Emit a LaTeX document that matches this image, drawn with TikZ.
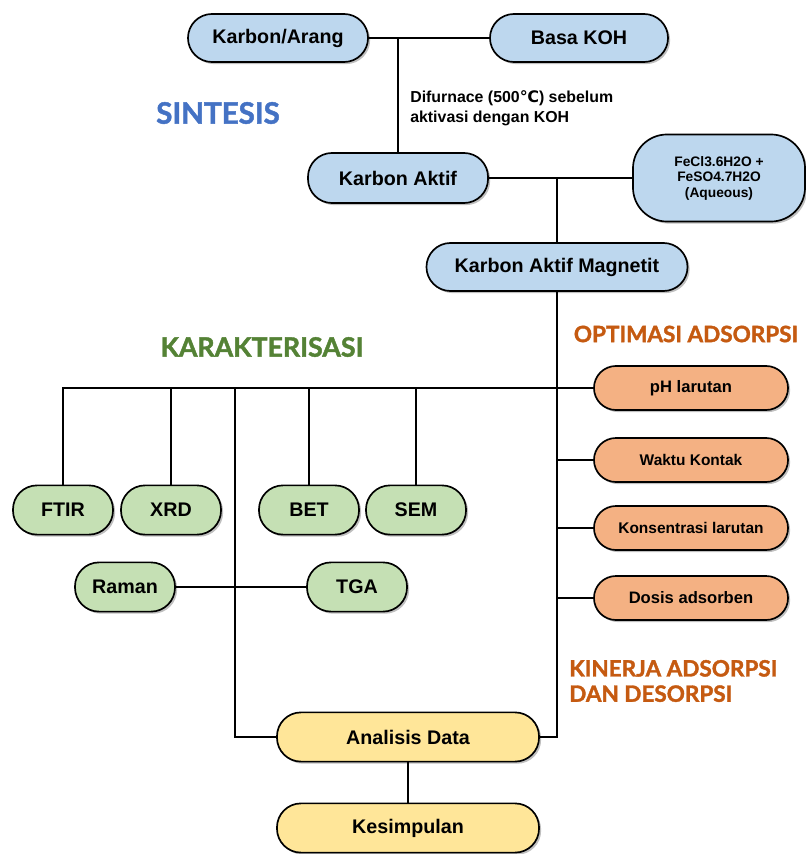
\documentclass[tikz,border=0pt]{standalone}
\usepackage{fontspec}
\setmainfont{Liberation Sans}
\newfontfamily\headfont{Lato}[BoldFeatures={FakeBold=1.6}]
\newfontfamily\symfont{DejaVu Sans}
\usetikzlibrary{shadows}
\definecolor{sinfill}{HTML}{BDD7EE}
\definecolor{karfill}{HTML}{C5E0B4}
\definecolor{optfill}{HTML}{F4B183}
\definecolor{hasfill}{HTML}{FFE699}
\definecolor{sinhead}{HTML}{4472C4}
\definecolor{karhead}{HTML}{548235}
\definecolor{opthead}{HTML}{C55A11}

\begin{document}
\begin{tikzpicture}[x=0.025cm,y=-0.025cm]
        \tikzstyle{block}=[draw=black,line width=1.2pt,align=center,inner sep=0pt,
            font=\bfseries\fontsize{14}{16}\selectfont,
            drop shadow={shadow xshift=1.5pt,shadow yshift=-1.5pt,fill=black!50,opacity=.5}]
        \tikzstyle{sintesis}=[block,fill=sinfill,rounded corners=0.6cm,minimum height=1.2cm]
        \tikzstyle{karak}=[block,fill=karfill,rounded corners=0.6cm,minimum width=2.5cm,minimum height=1.23cm]
        \tikzstyle{optim}=[block,fill=optfill,rounded corners=0.55cm,minimum width=4.85cm,minimum height=1.1cm,
            font=\bfseries\fontsize{11.8}{14}\selectfont]
        \tikzstyle{hasil}=[block,fill=hasfill,rounded corners=0.6cm,minimum width=6.55cm,minimum height=1.23cm]
        \tikzstyle{heading}=[font=\headfont\bfseries\fontsize{21}{25}\selectfont,inner sep=0pt]
        \tikzstyle{link}=[line width=1.2pt]

        \useasboundingbox (0,0) rectangle (805,854);

        % sintesis
        \node[sintesis, minimum width=4.5cm] (arang) at (278,38) {Karbon/Arang};
        \node[sintesis, minimum width=4.45cm] (koh) at (579,38) {Basa KOH};
        \node[sintesis, minimum width=4.5cm, minimum height=1.25cm] (aktif) at (398,178) {Karbon Aktif};
        \node[sintesis, minimum width=4.3cm, minimum height=2.175cm, rounded corners=0.85cm,
            font=\bfseries\fontsize{9.8}{11}\selectfont] (fecl) at (719,178)
            {FeCl3.6H2O +\\FeSO4.7H2O\\(Aqueous)};
        \node[sintesis, minimum width=6.525cm] (magnetit) at (557,267) {Karbon Aktif Magnetit};

        \node[heading, text=sinhead] (hsin) at (218,113) {SINTESIS};
        \node[anchor=west, align=left, inner sep=0pt,
            font=\bfseries\fontsize{11.3}{14}\selectfont] (furnace) at (410,108)
            {Difurnace (500{\symfont ℃}) sebelum\\aktivasi dengan KOH};

        % karakterisasi
        \node[karak] (ftir) at (63,510) {FTIR};
        \node[karak] (xrd) at (171,510) {XRD};
        \node[karak] (bet) at (309,510) {BET};
        \node[karak] (sem) at (416,510) {SEM};
        \node[karak] (raman) at (125,587) {Raman};
        \node[karak] (tga) at (357,587) {TGA};

        \node[heading, text=karhead, font=\headfont\bfseries\fontsize{19}{23}\selectfont] (hkar) at (262,347) {KARAKTERISASI};

        % optimasi
        \node[optim] (ph) at (691,388) {pH larutan};
        \node[optim, font=\bfseries\fontsize{11}{13}\selectfont] (waktu) at (691,460) {Waktu Kontak};
        \node[optim, font=\bfseries\fontsize{11}{13}\selectfont] (konsentrasi) at (691,528) {Konsentrasi larutan};
        \node[optim] (dosis) at (691,598) {Dosis adsorben};

        \node[heading, text=opthead, font=\headfont\bfseries\fontsize{16}{19}\selectfont] (hopt) at (686,334) {OPTIMASI ADSORPSI};
        \node[heading, text=opthead, anchor=west, align=left,
            font=\headfont\bfseries\fontsize{16}{18}\selectfont] (hkin) at (569,681) {KINERJA ADSORPSI\\DAN DESORPSI};

        % hasil
        \node[hasil] (analisis) at (408,737) {Analisis Data};
        \node[hasil] (kesimpulan) at (408,828) {Kesimpulan};

        % connectors
        \coordinate (j1) at (398,38);
        \coordinate (j2) at (557,178);
        \coordinate (j3) at (235,388);

        \draw[link] (arang) -- (koh);
        \draw[link] (j1) -- (aktif);
        \draw[link] (aktif) -- (fecl);
        \draw[link] (j2) -- (magnetit);
        \draw[link] (magnetit) |- (analisis);

        \draw[link] (ftir) |- (ph);
        \draw[link] (xrd) -- (xrd |- ph);
        \draw[link] (bet) -- (bet |- ph);
        \draw[link] (sem) -- (sem |- ph);
        \draw[link] (analisis) -| (j3);
        \draw[link] (raman) -- (tga);

        \draw[link] (waktu) -- (waktu -| magnetit);
        \draw[link] (konsentrasi) -- (konsentrasi -| magnetit);
        \draw[link] (dosis) -- (dosis -| magnetit);

        \draw[link] (analisis) -- (kesimpulan);
\end{tikzpicture}
\end{document}
